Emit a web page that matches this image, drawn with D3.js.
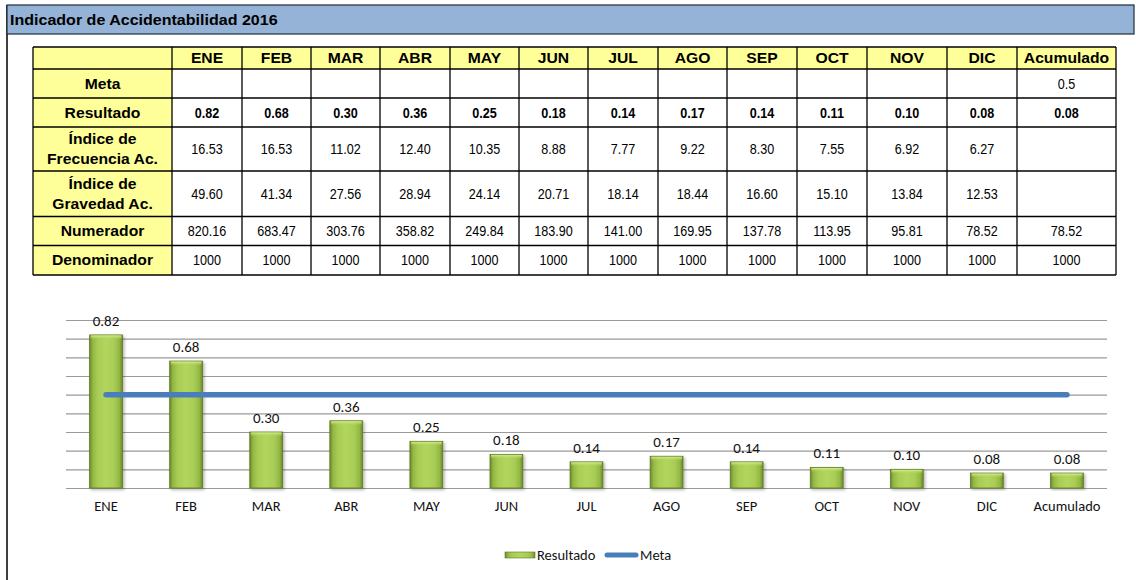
<!DOCTYPE html>
<html>
<head>
<meta charset="utf-8">
<script src="https://cdn.jsdelivr.net/npm/d3@7"></script>
<style>
  html, body { margin: 0; padding: 0; background: #fff; }
  svg { display: block; }
</style>
</head>
<body>
<svg id="chart" width="1136" height="580"></svg>
<script>
// ---- data ----
const columns = ["ENE", "FEB", "MAR", "ABR", "MAY", "JUN", "JUL", "AGO", "SEP", "OCT", "NOV", "DIC", "Acumulado"];
const rowLabels = ["Meta", "Resultado", "Índice de|Frecuencia Ac.", "Índice de|Gravedad Ac.", "Numerador", "Denominador"];

const metaRow = ["", "", "", "", "", "", "", "", "", "", "", "", "0.5"];
const resultado = [0.82, 0.68, 0.30, 0.36, 0.25, 0.18, 0.14, 0.17, 0.14, 0.11, 0.10, 0.08, 0.08];
const frecuencia = ["16.53", "16.53", "11.02", "12.40", "10.35", "8.88", "7.77", "9.22", "8.30", "7.55", "6.92", "6.27", ""];
const gravedad = ["49.60", "41.34", "27.56", "28.94", "24.14", "20.71", "18.14", "18.44", "16.60", "15.10", "13.84", "12.53", ""];
const numerador = ["820.16", "683.47", "303.76", "358.82", "249.84", "183.90", "141.00", "169.95", "137.78", "113.95", "95.81", "78.52", "78.52"];
const denominador = ["1000", "1000", "1000", "1000", "1000", "1000", "1000", "1000", "1000", "1000", "1000", "1000", "1000"];

// meta line in the chart
const meta = [0.5, 0.5, 0.5, 0.5, 0.5, 0.5, 0.5, 0.5, 0.5, 0.5, 0.5, 0.5, 0.5];

const svg = d3.select("#chart");
const arial = "Arial, 'Liberation Sans', sans-serif";
const chartFont = "Carlito, 'Open Sans', sans-serif";

// the sheet picture is a bit stretched sideways, so text gets a horizontal scale
const putText = (parent, x, y, sx, str) => {
    return parent.append("g")
        .attr("transform", "translate(" + x + "," + y + ") scale(" + sx + ",1)")
        .append("text")
        .attr("text-anchor", "middle")
        .text(str);
}

///////////////////////////////////////////////////////
// frame + title
///////////////////////////////////////////////////////
svg.append("line")
    .attr("x1", 7).attr("x2", 7).attr("y1", 5).attr("y2", 580)
    .attr("stroke", "#000").attr("stroke-width", 1.5);

svg.append("rect")
    .attr("x", 7).attr("y", 5).attr("width", 1127).attr("height", 29)
    .attr("fill", "#95B3D7")
    .attr("stroke", "#1f2a3a").attr("stroke-width", 1.2);

svg.append("g")
    .attr("transform", "translate(10,25) scale(1.07,1)")
    .append("text")
    .style("font-family", arial)
    .style("font-weight", "bold")
    .style("font-size", "15px")
    .attr("fill", "#000")
    .text("Indicador de Accidentabilidad 2016");

///////////////////////////////////////////////////////
// table
///////////////////////////////////////////////////////
// column edges (label column first) and row edges (header first)
const colEdges = [33, 172, 242, 311, 380, 450, 519, 588, 658, 727, 797, 867, 947, 1017, 1116];
const rowEdges = [47, 69, 98, 127, 171, 216.5, 245.5, 275];
const headFill = "#FFFF99";

const table = svg.append("g").attr("class", "table");

const bodyRows = [metaRow, resultado.map(d => d.toFixed(2)), frecuencia, gravedad, numerador, denominador];

// cell backgrounds
table.append("rect")
    .attr("x", colEdges[0]).attr("y", rowEdges[0])
    .attr("width", colEdges[colEdges.length - 1] - colEdges[0])
    .attr("height", rowEdges[1] - rowEdges[0])
    .attr("fill", headFill);
table.append("rect")
    .attr("x", colEdges[0]).attr("y", rowEdges[1])
    .attr("width", colEdges[1] - colEdges[0])
    .attr("height", rowEdges[rowEdges.length - 1] - rowEdges[1])
    .attr("fill", headFill);

// header texts
columns.forEach((c, i) => {
    putText(table, (colEdges[i + 1] + colEdges[i + 2]) / 2, (rowEdges[0] + rowEdges[1]) / 2 + 5, 1.12, c)
        .style("font-family", arial)
        .style("font-weight", "bold")
        .style("font-size", "14px");
});

// row labels (may be on two lines)
rowLabels.forEach((lab, r) => {
    const lines = lab.split("|");
    const cy = (rowEdges[r + 1] + rowEdges[r + 2]) / 2;
    lines.forEach((ln, k) => {
        putText(table, (colEdges[0] + colEdges[1]) / 2, cy + 5 + (k - (lines.length - 1) / 2) * 20, 1.12, ln)
            .style("font-family", arial)
            .style("font-weight", "bold")
            .style("font-size", "14px");
    });
});

// body values (narrow look)
bodyRows.forEach((row, r) => {
    const cy = (rowEdges[r + 1] + rowEdges[r + 2]) / 2;
    row.forEach((v, i) => {
        putText(table, (colEdges[i + 1] + colEdges[i + 2]) / 2, cy + 5, 0.9, v)
            .style("font-family", arial)
            .style("font-weight", r === 1 ? "bold" : "normal")
            .style("font-size", "14px");
    });
});

// grid lines of the table
table.selectAll(".vline")
    .data(colEdges)
    .enter().append("line")
    .attr("x1", d => d).attr("x2", d => d)
    .attr("y1", rowEdges[0]).attr("y2", rowEdges[rowEdges.length - 1])
    .attr("stroke", "#000").attr("stroke-width", 1.3);
table.selectAll(".hline")
    .data(rowEdges)
    .enter().append("line")
    .attr("x1", colEdges[0]).attr("x2", colEdges[colEdges.length - 1])
    .attr("y1", d => d).attr("y2", d => d)
    .attr("stroke", "#000").attr("stroke-width", 1.3);

///////////////////////////////////////////////////////
// bar chart
///////////////////////////////////////////////////////
const plot = { left: 66, right: 1107, top: 320, bottom: 488 };

const x = d3.scaleBand()
    .domain(columns)
    .range([plot.left, plot.right])
    .paddingInner(0.59)
    .paddingOuter(0.295);

const y = d3.scaleLinear()
    .domain([0, 0.9])
    .range([plot.bottom, plot.top]);

const defs = svg.append("defs");
const grad = defs.append("linearGradient")
    .attr("id", "barGrad")
    .attr("x1", "0%").attr("x2", "100%").attr("y1", "0%").attr("y2", "0%");
[["0%", "#6a8a26"], ["10%", "#94b845"], ["25%", "#a9cc55"], ["50%", "#b2d55e"], ["75%", "#a9cc55"], ["90%", "#94b845"], ["100%", "#6a8a26"]]
    .forEach(s => grad.append("stop").attr("offset", s[0]).attr("stop-color", s[1]));

const gradTop = defs.append("linearGradient")
    .attr("id", "barTop")
    .attr("x1", "0%").attr("x2", "0%").attr("y1", "0%").attr("y2", "100%");
gradTop.append("stop").attr("offset", "0%").attr("stop-color", "#d4ee8c");
gradTop.append("stop").attr("offset", "100%").attr("stop-color", "#b2d55e").attr("stop-opacity", 0);

const shadow = defs.append("filter").attr("id", "shadow")
    .attr("x", "-30%").attr("y", "-10%").attr("width", "160%").attr("height", "130%");
shadow.append("feDropShadow")
    .attr("dx", 1.5).attr("dy", 1.5).attr("stdDeviation", 1.5)
    .attr("flood-color", "#000").attr("flood-opacity", 0.3);

// horizontal gridlines
const yAxis = d3.axisLeft(y)
    .tickValues(d3.range(0, 0.91, 0.1))
    .tickSize(-(plot.right - plot.left))
    .tickFormat("");
const yAxisGroup = svg.append("g")
    .attr("transform", "translate(" + plot.left + ",0)")
    .call(yAxis);
yAxisGroup.select(".domain").remove();
yAxisGroup.selectAll(".tick line")
    .attr("stroke", "#9a9a9a")
    .attr("stroke-width", 1.2);

// bars
const bars = svg.append("g").selectAll("g")
    .data(resultado)
    .enter().append("g");

bars.append("rect")
    .attr("x", (d, i) => x(columns[i]))
    .attr("y", d => y(d))
    .attr("width", x.bandwidth())
    .attr("height", d => plot.bottom - y(d))
    .attr("fill", "url(#barGrad)")
    .attr("stroke", "#5e7a22")
    .attr("stroke-width", 0.8)
    .attr("filter", "url(#shadow)");

bars.append("rect")
    .attr("x", (d, i) => x(columns[i]) + 1)
    .attr("y", d => y(d) + 0.5)
    .attr("width", x.bandwidth() - 2)
    .attr("height", 4)
    .attr("fill", "url(#barTop)");

// bar labels
svg.append("g").selectAll("text")
    .data(resultado)
    .enter().append("text")
    .attr("x", (d, i) => x(columns[i]) + x.bandwidth() / 2)
    .attr("y", d => y(d) - 9)
    .attr("text-anchor", "middle")
    .style("font-family", chartFont)
    .style("font-size", "15px")
    .attr("fill", "#111")
    .text(d => d.toFixed(2));

// meta line
const line = d3.line()
    .x((d, i) => x(columns[i]) + x.bandwidth() / 2)
    .y(d => y(d));
svg.append("path")
    .datum(meta)
    .attr("d", line)
    .attr("fill", "none")
    .attr("stroke", "#4A7EBB")
    .attr("stroke-width", 5.5)
    .attr("stroke-linecap", "round");

// category axis
const xAxis = d3.axisBottom(x).tickSize(0).tickPadding(13);
const xAxisGroup = svg.append("g")
    .attr("transform", "translate(0," + plot.bottom + ")")
    .call(xAxis);
xAxisGroup.select(".domain").remove();
xAxisGroup.selectAll("text")
    .style("font-family", chartFont)
    .style("font-size", "14.5px")
    .attr("fill", "#111");

// legend
const legend = svg.append("g").attr("transform", "translate(505,555)");
legend.append("rect")
    .attr("x", 0).attr("y", -3).attr("width", 30).attr("height", 6)
    .attr("fill", "url(#barGrad)")
    .attr("stroke", "#5e7a22").attr("stroke-width", 0.6);
legend.append("text")
    .attr("x", 32).attr("y", 5)
    .style("font-family", chartFont)
    .style("font-size", "14.5px")
    .attr("fill", "#111")
    .text("Resultado");
legend.append("line")
    .attr("x1", 102).attr("x2", 131).attr("y1", 0).attr("y2", 0)
    .attr("stroke", "#4A7EBB").attr("stroke-width", 5)
    .attr("stroke-linecap", "round");
legend.append("text")
    .attr("x", 135).attr("y", 5)
    .style("font-family", chartFont)
    .style("font-size", "14.5px")
    .attr("fill", "#111")
    .text("Meta");
</script>
</body>
</html>
